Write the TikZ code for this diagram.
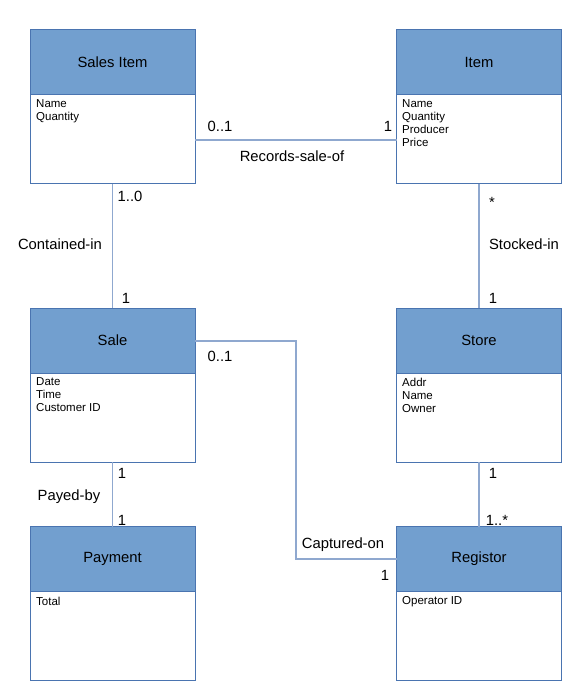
\documentclass[tikz,border=0pt]{standalone}
\usepackage{fontspec}
\setmainfont{Liberation Sans}
\definecolor{hdr}{HTML}{729FCF}
\definecolor{bord}{HTML}{4A74B0}
\definecolor{conn}{HTML}{8FA8CF}
\begin{document}
\begin{tikzpicture}[x=1pt,y=-1pt,
  classbox/.style={draw=bord,line width=1pt,fill=white,minimum width=165pt,minimum height=154pt,inner sep=0pt,outer sep=0pt},
  hdrbox/.style={draw=bord,line width=1pt,fill=hdr,minimum width=165pt,minimum height=65pt,inner sep=0pt,outer sep=0pt,font=\fontsize{14.8}{17}\selectfont},
  attrs/.style={anchor=north west,align=left,inner sep=0pt,font=\fontsize{11.5}{13}\selectfont},
  mult/.style={inner sep=0pt,font=\fontsize{14.8}{17}\selectfont},
  conline/.style={draw=conn,line width=1.5pt}]
\useasboundingbox (0,0) rectangle (582,700);
% classes
\node[classbox] (si) at (112.5,107) {};
\node[hdrbox,anchor=north] (siH) at (si.north) {Sales Item};
\node[attrs] (siA) at (36,99.5) {Name\\Quantity};

\node[classbox] (it) at (479,107) {};
\node[hdrbox,anchor=north] (itH) at (it.north) {Item};
\node[attrs] (itA) at (402,99.5) {Name\\Quantity\\Producer\\Price};

\node[classbox] (sa) at (112.5,385) {};
\node[hdrbox,anchor=north] (saH) at (sa.north) {Sale};
\node[attrs] (saA) at (36,377.5) {Date\\Time\\Customer ID};

\node[classbox] (st) at (479,385) {};
\node[hdrbox,anchor=north] (stH) at (st.north) {Store};
\node[attrs] (stA) at (402,377.5) {Addr\\Name\\Owner};

\node[classbox] (pa) at (112.5,603.5) {};
\node[hdrbox,anchor=north] (paH) at (pa.north) {Payment};
\node[attrs] (paA) at (36,596.5) {Total};

\node[classbox] (re) at (479,603.5) {};
\node[hdrbox,anchor=north] (reH) at (re.north) {Registor};
\node[attrs] (reA) at (402,596.5) {Operator ID};

% connectors
\coordinate (y1) at (0,140);
\draw[conline] (si.east |- y1) -- (it.west |- y1);
\draw[conline] (si.south) -- (saH.north);
\draw[conline] (it.south) -- (stH.north);
\draw[conline] (sa.south) -- (paH.north);
\draw[conline] (st.south) -- (reH.north);
\coordinate (y2) at (0,341);
\coordinate (y3) at (0,559);
\coordinate (e1) at (296,341);
\coordinate (e2) at (296,559);
\draw[conline] (sa.east |- y2) -- (e1) -- (e2) -- (re.west |- y3);

% labels
\node[mult] (l1) at (220,126) {0..1};
\node[mult] (l2) at (388,126) {1};
\node[mult] (l3) at (292,156) {Records-sale-of};
\node[mult] (l4) at (130,196) {1..0};
\node[mult] (l5) at (60,244) {Contained-in};
\node[mult] (l6) at (126,298) {1};
\node[mult] (l7) at (492,202) {*};
\node[mult] (l8) at (524,244) {Stocked-in};
\node[mult] (l9) at (493,298) {1};
\node[mult] (l10) at (220,356) {0..1};
\node[mult] (l11) at (343,545) {Captured-on};
\node[mult] (l12) at (385,575) {1};
\node[mult] (l13) at (122,473) {1};
\node[mult] (l14) at (69,497) {Payed-by};
\node[mult] (l15) at (122,520) {1};
\node[mult] (l16) at (493,473) {1};
\node[mult] (l17) at (497,520) {1..*};
\end{tikzpicture}
\end{document}
